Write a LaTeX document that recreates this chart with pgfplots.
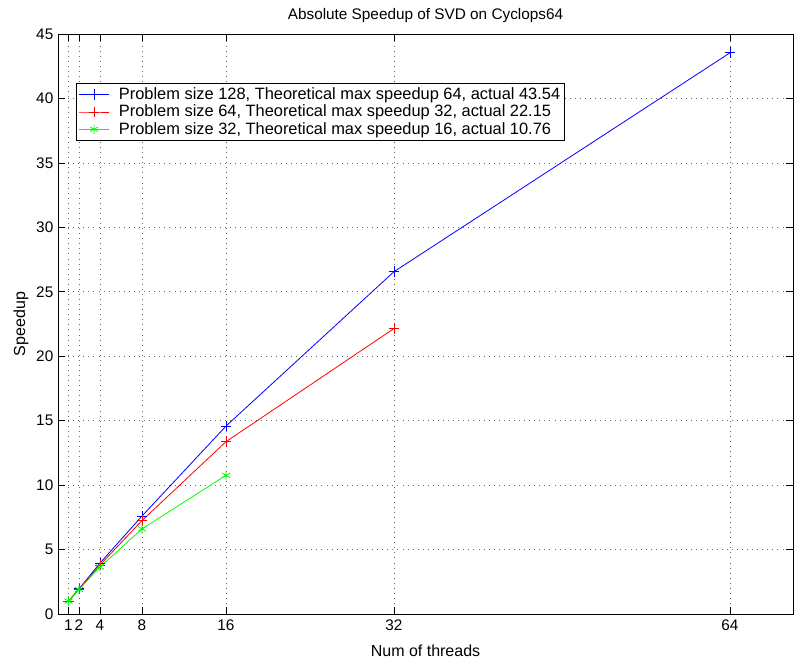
\documentclass[border=0pt]{standalone}
\usepackage{pgfplots}
\pgfplotsset{compat=1.18}
\usepackage{fontspec}
\setmainfont{Liberation Sans}
\begin{document}
\begin{tikzpicture}
\useasboundingbox (-43.5pt,-34.5pt) rectangle (553.5pt,460.5pt);
\begin{axis}[
  at={(0,0)}, anchor=south west,
  scale only axis, width=551.25pt, height=435pt,
  xmin=0, xmax=70, ymin=0, ymax=45,
  xtick={1,2,4,8,16,32,64},
  ytick={0,5,...,45},
  tick align=inside, major tick length=5pt,
  grid=major,
  major grid style={black!60, line width=0.5pt, dash pattern=on 0.6pt off 3.2pt},
  axis line style={black, line width=0.7pt},
  every tick/.style={black, line width=0.5pt},
  /pgf/number format/assume math mode=true,
  ticklabel style={font=\fontsize{11.5}{13}\selectfont},
  xticklabel style={yshift=-1pt},
  label style={font=\fontsize{12}{14}\selectfont},
  xlabel={Num of threads}, ylabel={Speedup},
  xlabel style={yshift=-4pt}, ylabel style={yshift=-1pt},
  title={Absolute Speedup of SVD on Cyclops64},
  title style={yshift=-1pt, font=\fontsize{11.5}{13}\selectfont},
  legend style={at={(0.0245,0.916)}, anchor=north west, line width=0.7pt,
    font=\fontsize{12.3}{14}\selectfont, inner sep=1.5pt, row sep=-1.5pt,
    /tikz/every odd column/.append style={column sep=5pt}},
  legend image code/.code={\draw[mark repeat=2,mark phase=2] plot coordinates {(0cm,0cm)(0.4cm,0cm)(0.8cm,0cm)};},
  legend cell align=left,
]
\addplot[color=blue, mark=+, mark size=4pt, line width=0.6pt] coordinates {(1,1)(2,1.95)(4,3.95)(8,7.6)(16,14.58)(32,26.56)(64,43.54)};
\addplot[color=red, mark=+, mark size=4pt, line width=0.6pt] coordinates {(1,1)(2,1.93)(4,3.8)(8,7.25)(16,13.37)(32,22.15)};
\addplot[color=green, mark=asterisk, mark size=3.5pt, line width=0.6pt] coordinates {(1,1)(2,1.9)(4,3.65)(8,6.6)(16,10.76)};
\legend{{Problem size 128, Theoretical max speedup 64, actual 43.54},{Problem size 64, Theoretical max speedup 32, actual 22.15},{Problem size 32, Theoretical max speedup 16, actual 10.76}}
\end{axis}
\end{tikzpicture}
\end{document}
